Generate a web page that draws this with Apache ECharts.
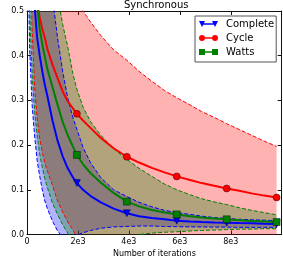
<!DOCTYPE html>
<html><head><meta charset="utf-8">
<script src="https://cdn.jsdelivr.net/npm/echarts@6/dist/echarts.min.js"></script>
<style>html,body{margin:0;padding:0;background:#fff}#c{width:283px;height:256px}</style>
</head><body><div id="c"></div>
<script>
const iterations = [50,100,200,300,400,500,600,700,800,1000,1200,1400,1600,1800,1960,2200,2500,2900,3400,3920,4400,4900,5400,5880,6400,6860,7350,7840,8330,8820,9310,9800];
const markerIterations = [1960,3920,5880,7840,9800];

const completeMean  = [3.0,1.5,0.7,0.51,0.44,0.40,0.365,0.335,0.31,0.255,0.21,0.175,0.148,0.128,0.115,0.1,0.086,0.072,0.058,0.0475,0.041,0.037,0.034,0.031,0.029,0.028,0.027,0.0265,0.0255,0.025,0.024,0.0235];
const completeLower = [0.6,0.42,0.29,0.22,0.165,0.13,0.1,0.075,0.058,0.03,0.008,-0.006,-0.012,-0.008,-0.002,0.004,0.009,0.014,0.017,0.018,0.019,0.019,0.018,0.0175,0.017,0.017,0.0165,0.0165,0.016,0.016,0.016,0.016];
const completeUpper = [5,3.5,2.0,1.5,1.2,1.0,0.85,0.72,0.64,0.53,0.44,0.365,0.305,0.262,0.235,0.195,0.16,0.127,0.1,0.085,0.072,0.062,0.054,0.049,0.045,0.041,0.038,0.036,0.034,0.033,0.032,0.031];

const cycleMean  = [3.5,1.6,0.85,0.62,0.52,0.485,0.46,0.44,0.415,0.38,0.35,0.32,0.298,0.282,0.27,0.255,0.238,0.216,0.193,0.174,0.161,0.149,0.139,0.130,0.122,0.115,0.109,0.103,0.098,0.092,0.087,0.083];
const cycleLower = [1.0,0.7,0.46,0.33,0.26,0.215,0.185,0.16,0.142,0.11,0.075,0.05,0.028,0.01,-0.005,-0.02,-0.03,-0.038,-0.04,-0.042,-0.042,-0.042,-0.042,-0.042,-0.042,-0.04,-0.038,-0.036,-0.035,-0.034,-0.032,-0.03];
const cycleUpper = [6,4,2.5,2.0,1.6,1.4,1.25,1.12,1.02,0.88,0.78,0.7,0.64,0.585,0.545,0.5,0.475,0.445,0.413,0.39,0.365,0.343,0.322,0.306,0.29,0.275,0.262,0.248,0.235,0.222,0.209,0.197];

const wattsMean  = [3.2,1.5,0.9,0.63,0.51,0.46,0.425,0.398,0.37,0.33,0.29,0.252,0.222,0.197,0.178,0.157,0.137,0.116,0.093,0.0735,0.063,0.055,0.049,0.045,0.041,0.038,0.036,0.034,0.032,0.030,0.029,0.028];
const wattsLower = [0.8,0.5,0.36,0.275,0.22,0.18,0.15,0.125,0.105,0.07,0.045,0.022,0.003,-0.012,-0.025,-0.035,-0.045,-0.05,-0.035,-0.02,0.0,0.003,0.005,0.006,0.008,0.009,0.01,0.011,0.012,0.012,0.013,0.013];
const wattsUpper = [6,4,2.4,1.8,1.4,1.15,0.98,0.85,0.76,0.63,0.535,0.47,0.42,0.36,0.325,0.285,0.252,0.222,0.192,0.168,0.148,0.13,0.113,0.1,0.089,0.08,0.073,0.067,0.06,0.054,0.049,0.044];

const xTickLabels = ['0','2e3','4e3','6e3','8e3',''];
const yTickLabels = ['0.0','0.1','0.2','0.3','0.4','0.5'];

const FONT = 'DejaVu Sans';
const methods = [
  {name:'Complete', mean:completeMean, lower:completeLower, upper:completeUpper, color:'#0000ff', fill:'rgba(0,0,255,0.3)', symbol:'triangle', rotate:180, size:7,
   icon:'path://M0,0 L6,0 L3,6 Z M13,0 L19,0 L16,6 Z M4,2.2 L15,2.2 L15,3.8 L4,3.8 Z'},
  {name:'Cycle', mean:cycleMean, lower:cycleLower, upper:cycleUpper, color:'#ff0000', fill:'rgba(255,0,0,0.3)', symbol:'circle', rotate:0, size:7,
   icon:'path://M0,3 A3,3 0 1 1 6,3 A3,3 0 1 1 0,3 Z M13,3 A3,3 0 1 1 19,3 A3,3 0 1 1 13,3 Z M6,2.2 L13,2.2 L13,3.8 L6,3.8 Z'},
  {name:'Watts', mean:wattsMean, lower:wattsLower, upper:wattsUpper, color:'#008000', fill:'rgba(0,128,0,0.3)', symbol:'rect', rotate:0, size:7,
   icon:'path://M0,0 L6,0 L6,6 L0,6 Z M13,0 L19,0 L19,6 L13,6 Z M6,2.2 L13,2.2 L13,3.8 L6,3.8 Z'}
];

const pairs = arr => iterations.map((x,i)=>[x, arr[i]]);
const series = [];
methods.forEach((m, k) => {
  series.push({
    type:'custom', name: m.name + '-band', clip:true, silent:true, z: 1 + k*0.01,
    data:[[0,0]],
    renderItem: (params, api) => {
      const pts = [];
      iterations.forEach((x,i)=>pts.push(api.coord([x, m.upper[i]])));
      for (let i = iterations.length-1; i >= 0; i--) pts.push(api.coord([iterations[i], m.lower[i]]));
      return {type:'polygon', shape:{points:pts}, style:{fill:m.fill, stroke:null}};
    }
  });
});
methods.forEach(m => {
  ['lower','upper'].forEach(key => {
    series.push({
      type:'line', name: m.name + '-' + key, data: pairs(m[key]), symbol:'none', silent:true, z:2,
      lineStyle:{color:m.color, width:1, type:[4,2]}, clip:true
    });
  });
});
methods.forEach(m => {
  series.push({
    type:'line', name:m.name, z:3, clip:true, silent:true,
    symbol:m.symbol, symbolSize:m.size, symbolRotate:m.rotate, showAllSymbol:true,
    itemStyle:{color:m.color, borderColor:'rgba(0,0,0,0.7)', borderWidth:0.6},
    lineStyle:{color:m.color, width:2},
    data: iterations.map((x,i)=> markerIterations.includes(x) ? {value:[x, m.mean[i]]} : {value:[x, m.mean[i]], symbol:'none'})
  });
});

const axisCommon = {
  axisLine:{show:true, onZero:false, lineStyle:{color:'#111', width:1}},
  axisTick:{show:true, inside:true, length:4, lineStyle:{color:'#111', width:1}},
  splitLine:{show:false}
};

const chart = echarts.init(document.getElementById('c'), null, {renderer:'canvas'});
chart.setOption({
  animation:false,
  backgroundColor:'#fff',
  title:{text:'Synchronous', left:124, top:0, padding:0, textStyle:{fontSize:10, fontWeight:'normal', fontFamily:FONT, color:'#000'}},
  legend:{
    orient:'vertical', left:195, top:16, padding:[2,2,4,4], itemWidth:19, itemHeight:7, itemGap:2,
    borderColor:'#555', borderWidth:1, backgroundColor:'#fff', selectedMode:false,
    itemStyle:{borderWidth:0},
    textStyle:{fontSize:10, fontFamily:FONT, color:'#000', lineHeight:12, padding:[0,0,0,3]},
    data: methods.map(m=>({name:m.name, icon:m.icon}))
  },
  grid:{left:27, right:1.3, top:11, bottom:21.5, containLabel:false, outerBoundsMode:'none'},
  xAxis:[
    Object.assign({type:'value', min:0, max:10000, interval:2000, position:'bottom',
      name:'Number of iterations', nameLocation:'middle', nameGap:13.5,
      nameTextStyle:{fontSize:8, fontFamily:FONT, color:'#000'},
      axisLabel:{fontSize:8, fontFamily:FONT, color:'#000', margin:3, formatter:v=>xTickLabels[Math.round(v/2000)]}}, axisCommon),
    Object.assign({type:'value', min:0, max:10000, interval:2000, position:'top', axisLabel:{show:false}}, axisCommon)
  ],
  yAxis:[
    Object.assign({type:'value', min:0, max:0.5, interval:0.1, position:'left',
      name:'Logistic loss', nameLocation:'middle', nameGap:17.5,
      nameTextStyle:{fontSize:8, fontFamily:FONT, color:'#000'},
      axisLabel:{fontSize:8, fontFamily:FONT, color:'#000', margin:3, formatter:v=>yTickLabels[Math.round(v*10)]}}, axisCommon),
    Object.assign({type:'value', min:0, max:0.5, interval:0.1, position:'right', axisLabel:{show:false}}, axisCommon)
  ],
  series: series
});
</script>
</body></html>
